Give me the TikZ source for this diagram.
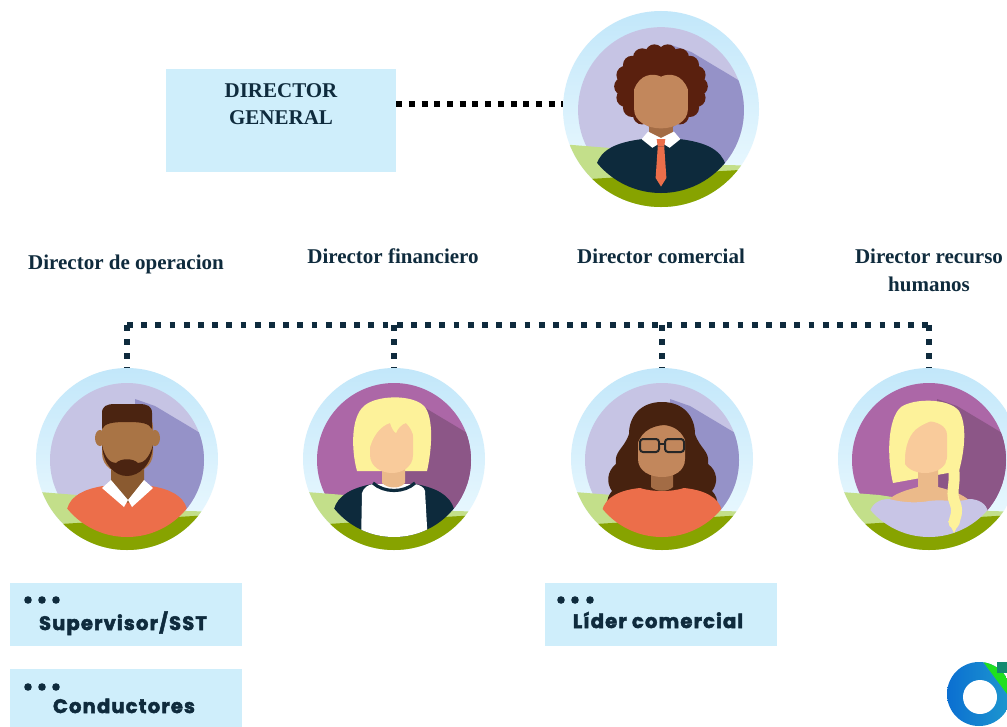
\documentclass[tikz,border=0pt]{standalone}
\usepackage{fontspec}
\setmainfont{Liberation Serif}
\newfontfamily\boxfont{Poppins}[LetterSpace=6.0, FakeBold=2.5]
\begin{document}
\definecolor{ink}{HTML}{0F2B3D}
\definecolor{boxblue}{HTML}{CFEEFB}
\definecolor{ringtop}{HTML}{C2E7FA}
\definecolor{ringbot}{HTML}{F0FBFF}
\definecolor{lav}{HTML}{C6C4E4}
\definecolor{lavshade}{HTML}{9592C8}
\definecolor{plum}{HTML}{AC67A7}
\definecolor{plumshade}{HTML}{8C5687}
\definecolor{grasslight}{HTML}{C3DF8A}
\definecolor{grassdark}{HTML}{87A300}
\definecolor{suit}{HTML}{0D2A3C}
\definecolor{coral}{HTML}{EC6E4A}
\definecolor{skinA}{HTML}{A97445}
\definecolor{neckA}{HTML}{8A5A30}
\definecolor{hairA}{HTML}{4B2411}
\definecolor{skinB}{HTML}{F9CB9B}
\definecolor{neckB}{HTML}{EBBA8A}
\definecolor{blond}{HTML}{FDF29A}
\definecolor{skinC}{HTML}{C2875C}
\definecolor{neckC}{HTML}{A36C45}
\definecolor{hairC}{HTML}{47220F}
\definecolor{afro}{HTML}{5A200E}
\definecolor{lilac}{HTML}{C8C5E6}
\definecolor{logoblue}{HTML}{0B6FD1}
\definecolor{logocyan}{HTML}{1E98CF}
\definecolor{logogreen}{HTML}{1FE01F}
\definecolor{logoteal}{HTML}{138A70}
% sky ring, backdrop disc, long shadow and the two grass bands
\newcommand\avatarback[2]{%
  \shade[top color=ringtop, bottom color=ringbot] (0,0) circle (91);
  \fill[#1] (0,1) circle (77);
  \begin{scope}
    \clip (0,1) circle (77);
    \fill[#2] (8,-60) -- (28,-53) -- (110,-4) -- (110,110) -- (8,110) -- cycle;
  \end{scope}
  \begin{scope}
    \clip (0,0) circle (91);
    \fill[grasslight] (-100,32) -- (-50,36) -- (10,45) -- (60,52) -- (100,53) -- (100,110) -- (-100,110) -- cycle;
    \fill[grassdark] (-100,67) -- (100,55) -- (100,110) -- (-100,110) -- cycle;
  \end{scope}
}
\begin{tikzpicture}[x=1pt, y=-1pt,
  avatar/.style={circle, minimum size=182pt, inner sep=0pt},
  dgbox/.style={fill=boxblue, minimum width=230pt, minimum height=103pt, inner sep=0pt},
  subbox/.style={fill=boxblue, minimum width=232pt, minimum height=63pt, inner sep=0pt},
  title/.style={font=\bfseries\fontsize{21}{27.3}\selectfont, text=ink, align=center, inner sep=0pt},
  role/.style={font=\bfseries\fontsize{21}{28}\selectfont, text=ink, align=center, inner sep=0pt},
  subtext/.style={font=\boxfont\bfseries\fontsize{19.5}{22}\selectfont, text=ink, inner sep=0pt},
  topdots/.style={line width=6pt, dash pattern=on 6pt off 6.7pt, black},
  busdots/.style={line width=5.8pt, dash pattern=on 5.8pt off 8.4pt, ink}]
\useasboundingbox (0,0) rectangle (1007,726);
\fill[white] (0,0) rectangle (1007,726);
\begin{scope}
\clip (0,0) rectangle (1007,726);

% ---------- nodes ----------
\node[dgbox] (dg) at (281,120.5) {};
\node[title, anchor=north] (dgtext) at (281,83.5) {DIRECTOR\\GENERAL};
\node[avatar, minimum size=196pt] (gen) at (661,109) {};
\node[avatar] (op) at (127,459) {};
\node[avatar] (fin) at (394,459) {};
\node[avatar] (com) at (662,459) {};
\node[avatar] (rh) at (929,459) {};

\node[role, anchor=base] (l-op) at (126,269.3) {Director de operacion};
\node[role, anchor=base] (l-fin) at (393,263.3) {Director financiero};
\node[role, anchor=base] (l-com) at (661,263.3) {Director comercial};
\node[role, anchor=north] (l-rh) at (929,249) {Director recurso\\humanos};

\node[subbox] (sup) at (126,614) {};
\node[subbox] (cond) at (126,700.5) {};
\node[subbox] (lid) at (661,614.5) {};
\node[subtext, anchor=base] (sup-t) at (123,630) {Supervisor/SST};
\node[subtext, anchor=base] (cond-t) at (124,713) {Conductores};
\node[subtext, anchor=base] (lid-t) at (658,628) {Líder comercial};
\foreach \dx in {28,42,56} {
  \fill[ink] (\dx,600) circle (3.8);
  \fill[ink] (\dx,687) circle (3.8);
}
\foreach \dx in {561,575,590} \fill[ink] (\dx,600) circle (3.8);

% ---------- connectors ----------
\coordinate (dgport) at ([yshift=16.5pt]dg.east);
\draw[topdots] (dgport) -- (dgport -| gen.west);
\foreach \n in {op,fin,com,rh} \path (\n.north) ++(0,-43) coordinate (b-\n);
\draw[busdots] (b-op) -- (b-rh);
\foreach \n in {op,fin,com,rh} \draw[busdots] (b-\n) -- (\n);

% ---------- general director: curly hair, suit and tie ----------
\begin{scope}[shift={(gen.center)}, scale=1.077]
  \avatarback{lav}{lavshade}
  \begin{scope}
    \clip (0,1) circle (77);
    \fill[afro] (0,-21) ellipse [x radius=37, y radius=33];
    \foreach \a in {0,20,...,340} \fill[afro] ({35*cos(\a)},{-21+31*sin(\a)}) circle (8.5);
    \fill[suit] (-62,85) -- (-60,52) .. controls (-56,38) and (-42,31) .. (-18,28) -- (18,28) .. controls (42,31) and (56,38) .. (60,52) -- (62,85) -- cycle;
    \fill[neckC] (-11,0) -- (11,0) -- (11,30) -- (-11,30) -- cycle;
    \fill[white] (-18,28) -- (-12,21) -- (0,27) -- (12,21) -- (18,28) -- (8,36) -- (0,31) -- (-8,36) -- cycle;
    \fill[coral] (-4,28) -- (4,28) -- (3,35) -- (-3,35) -- cycle;
    \fill[coral] (-3,35) -- (3,35) -- (5,64) -- (0,72) -- (-5,64) -- cycle;
    \fill[skinC] (-25,-18) -- (-25,0) .. controls (-25,12) and (-12,18) .. (0,18) .. controls (12,18) and (25,12) .. (25,0) -- (25,-18) .. controls (20,-32) and (8,-34) .. (0,-30) .. controls (-8,-34) and (-20,-32) .. cycle;
  \end{scope}
\end{scope}

% ---------- operations: bearded man, coral sweater ----------
\begin{scope}[shift={(op.center)}]
  \avatarback{lav}{lavshade}
  \begin{scope}
    \clip (0,1) circle (77);
    \fill[coral] (-62,85) -- (-60,50) .. controls (-56,36) and (-42,30) .. (-24,27) -- (24,27) .. controls (42,30) and (56,36) .. (60,50) -- (62,85) -- cycle;
    \fill[neckA] (-16,0) -- (17,0) -- (17,28) -- (1,44) -- (-16,28) -- cycle;
    \fill[white] (-25,29) -- (-16,21) -- (1,41) -- (-3,48) -- cycle;
    \fill[white] (26,29) -- (17,21) -- (1,41) -- (5,48) -- cycle;
    \fill[skinA] (-27,-21) ellipse [x radius=5, y radius=8];
    \fill[skinA] (28,-21) ellipse [x radius=5, y radius=8];
    \fill[skinA] (-25,-32) -- (-25,-6) .. controls (-25,8) and (-12,15) .. (0,15) .. controls (12,15) and (26,8) .. (26,-6) -- (26,-32) .. controls (26,-44) and (14,-47) .. (0,-47) .. controls (-14,-47) and (-25,-44) .. cycle;
    \fill[hairA] (-25,-30) -- (-25,-46) .. controls (-25,-53) and (-20,-55) .. (-12,-55) -- (12,-55) .. controls (20,-55) and (25,-53) .. (25,-46) -- (25,-30) .. controls (22,-36) and (14,-37) .. (0,-37) .. controls (-14,-37) and (-22,-36) .. cycle;
    \fill[hairA] (-25,-14) .. controls (-24,6) and (-12,17) .. (0,17) .. controls (12,17) and (25,6) .. (26,-14) .. controls (22,0) and (16,4) .. (11,4) .. controls (6,-1) and (-6,-1) .. (-11,4) .. controls (-16,4) and (-22,0) .. cycle;
  \end{scope}
\end{scope}

% ---------- finance: blond boy, ringer tee ----------
\begin{scope}[shift={(fin.center)}]
  \avatarback{plum}{plumshade}
  \begin{scope}
    \clip (0,1) circle (77);
    \fill[blond] (-37,12) .. controls (-43,-10) and (-43,-42) .. (-30,-53) .. controls (-18,-64) and (18,-65) .. (30,-53) .. controls (40,-42) and (38,-10) .. (33,12) -- cycle;
    \fill[suit] (-62,85) -- (-60,50) .. controls (-56,36) and (-42,29) .. (-22,25) -- (22,25) .. controls (42,29) and (56,36) .. (60,50) -- (62,85) -- cycle;
    \fill[white] (-33,85) -- (-32,34) .. controls (-30,28) and (-26,26) .. (-21,25) -- (21,25) .. controls (26,26) and (30,28) .. (31,32) -- (34,85) -- cycle;
    \fill[neckB] (-12,0) -- (11,0) -- (11,24) .. controls (6,30) and (-6,30) .. (-12,24) -- cycle;
    \draw[suit, line width=3.2pt] (-21,24) .. controls (-10,34) and (10,34) .. (21,24);
    \fill[skinB] (-24,-28) -- (-24,-4) .. controls (-24,8) and (-12,14) .. (-2,14) .. controls (8,14) and (19,8) .. (19,-4) -- (19,-28) .. controls (19,-40) and (9,-42) .. (-2,-42) .. controls (-13,-42) and (-24,-40) .. cycle;
    \fill[blond] (-25,-8) .. controls (-22,-22) and (-14,-33) .. (-4,-36) .. controls (-2,-30) and (0,-27) .. (2,-26) .. controls (4,-31) and (8,-35) .. (12,-36) .. controls (16,-32) and (19,-27) .. (20,-20) -- (22,-50) -- (-27,-50) -- cycle;
  \end{scope}
\end{scope}

% ---------- commercial: woman with glasses, wavy hair ----------
\begin{scope}[shift={(com.center)}]
  \avatarback{lav}{lavshade}
  \begin{scope}
    \clip (0,1) circle (77);
    \fill[hairC] (0,-57) .. controls (22,-57) and (33,-42) .. (33,-25) .. controls (38,-10) and (48,-8) .. (46,5) .. controls (56,12) and (56,25) .. (50,32) .. controls (58,40) and (56,52) .. (50,58) -- (-50,58) .. controls (-56,50) and (-57,40) .. (-50,32) .. controls (-56,24) and (-55,12) .. (-46,5) .. controls (-48,-8) and (-38,-10) .. (-33,-25) .. controls (-33,-42) and (-22,-57) .. cycle;
    \fill[coral] (-62,85) -- (-60,52) .. controls (-57,38) and (-42,31) .. (-22,29) .. controls (-10,33) and (10,33) .. (22,29) .. controls (42,31) and (57,38) .. (60,52) -- (62,85) -- cycle;
    \fill[neckC] (-11,0) -- (11,0) -- (11,28) .. controls (6,33) and (-6,33) .. (-11,28) -- cycle;
    \fill[skinC] (-24,-22) -- (-24,0) .. controls (-24,12) and (-12,18) .. (0,18) .. controls (12,18) and (23,12) .. (23,0) -- (23,-22) .. controls (23,-32) and (12,-38) .. (0,-38) .. controls (-12,-38) and (-24,-32) .. cycle;
    \fill[hairC] (-26,-8) .. controls (-24,-26) and (-12,-33) .. (2,-34) .. controls (12,-33) and (21,-28) .. (25,-14) -- (26,-45) -- (-27,-45) -- cycle;
    \draw[black!85, line width=2pt, rounded corners=3pt] (-22,-20) rectangle (-3,-7) (3,-20) rectangle (22,-7);
    \draw[black!85, line width=2pt] (-3,-15) -- (3,-15);
  \end{scope}
\end{scope}

% ---------- human resources: blond woman with braid ----------
\begin{scope}[shift={(rh.center)}]
  \avatarback{plum}{plumshade}
  \begin{scope}
    \clip (0,1) circle (77);
    \fill[blond] (-36,24) .. controls (-42,0) and (-42,-40) .. (-28,-52) .. controls (-15,-61) and (20,-61) .. (30,-48) .. controls (38,-35) and (36,-10) .. (30,12) -- cycle;
    \fill[neckB] (-48,55) .. controls (-45,38) and (-30,33) .. (-11,28) -- (-11,0) -- (9,0) -- (9,28) .. controls (28,33) and (44,38) .. (48,55) -- cycle;
    \fill[lilac] (-62,85) -- (-59,52) .. controls (-56,44) and (-49,40) .. (-40,40) .. controls (-25,44) and (-10,44) .. (0,42) .. controls (15,40) and (30,44) .. (40,40) .. controls (50,40) and (57,45) .. (59,52) -- (62,85) -- cycle;
    \fill[skinB] (-26,-24) -- (-26,-2) .. controls (-26,9) and (-14,14) .. (-4,14) .. controls (6,14) and (18,9) .. (18,-2) -- (18,-24) .. controls (18,-33) and (8,-38) .. (-4,-38) .. controls (-16,-38) and (-26,-33) .. cycle;
    \fill[blond] (-32,20) .. controls (-40,-5) and (-38,-40) .. (-18,-50) .. controls (-5,-55) and (15,-52) .. (22,-42) .. controls (10,-42) and (-4,-36) .. (-10,-32) .. controls (-20,-26) and (-24,-12) .. (-24,0) .. controls (-24,8) and (-26,14) .. (-28,20) -- cycle;
    \fill[blond] (16,-40) .. controls (24,-28) and (22,-5) .. (17,10) -- (28,10) .. controls (34,-10) and (34,-30) .. (26,-44) -- cycle;
    \draw[blond, line width=11pt, line cap=round] (22,4) .. controls (30,18) and (20,32) .. (26,44) .. controls (30,54) and (25,60) .. (25,64);
    \fill[blond] (19,62) -- (31,62) -- (25,74) -- cycle;
  \end{scope}
\end{scope}

% ---------- corner mark ----------
\shade[left color=logoblue, right color=logocyan] (979,694) circle (32);
\begin{scope}
  \clip (979,694) circle (32);
  \fill[logogreen] (978,655) -- (1010,655) -- (1010,698) -- cycle;
\end{scope}
\fill[logoteal] (997,662) rectangle (1007,673);
\fill[white] (980,697) circle (17);
\end{scope}
\end{tikzpicture}
\end{document}
